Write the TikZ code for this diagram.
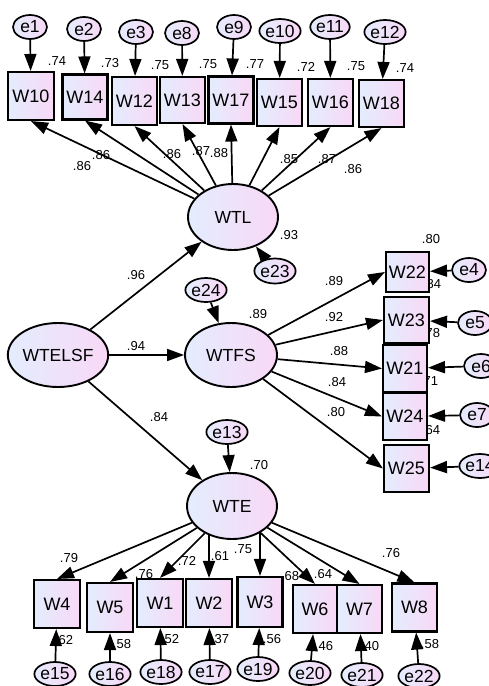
\documentclass[tikz,border=0pt]{standalone}
\usepackage{fontspec}
\setmainfont{Liberation Sans}
\usetikzlibrary{arrows.meta,shapes.geometric}
\definecolor{cA}{HTML}{E4EDFD}
\definecolor{cB}{HTML}{F8D8F6}
\pgfdeclarelayer{lab}
\pgfdeclarelayer{background}
\pgfsetlayers{lab,background,main}
\tikzset{
 obs/.style={draw, line width=2.1pt, rectangle, left color=cA, right color=cB, minimum width=45pt, minimum height=47pt, inner sep=0pt, font=\fontsize{18}{20}\selectfont},
 lat/.style={draw, line width=1.9pt, ellipse, left color=cA, right color=cB, minimum width=90pt, minimum height=66pt, inner sep=0pt, font=\fontsize{17.5}{20}\selectfont},
 err/.style={draw, line width=1.7pt, ellipse, left color=cA, right color=cB, minimum width=34pt, minimum height=24pt, inner sep=0pt, font=\fontsize{17.5}{20}\selectfont},
 arr/.style={line width=1.7pt, -{Triangle[length=17pt,width=12pt]}},
 num/.style={font=\fontsize{13}{15}\selectfont, inner sep=0pt},
}
\begin{document}
\begin{tikzpicture}[x=1pt,y=-1pt]
\clip (0,0) rectangle (489,686);
\begin{pgfonlayer}{lab}
\fill[white] (0,0) rectangle (489,686);
\end{pgfonlayer}
% top boxes
\node[obs, minimum width=46pt, minimum height=48pt] (W10) at (31,96) {W10};
\node[obs, minimum height=45pt] (W14) at (85,97) {W14};
\node[obs, minimum height=48pt] (W12) at (134.5,101) {W12};
\node[obs, minimum height=46pt] (W13) at (182.5,100) {W13};
\node[obs] (W17) at (231,100) {W17};
\node[obs] (W15) at (279.5,102.5) {W15};
\node[obs] (W16) at (330.5,102.5) {W16};
\node[obs] (W18) at (381.5,103.5) {W18};
% top errors
\node[err] (e1) at (30,27) {e1};
\node[err] (e2) at (84,29) {e2};
\node[err] (e3) at (136,32) {e3};
\node[err] (e8) at (182,33) {e8};
\node[err] (e9) at (234,27) {e9};
\node[err] (e10) at (280,31) {e10};
\node[err] (e11) at (330,27) {e11};
\node[err] (e12) at (385,32) {e12};
% latents
\node[lat] (WTL) at (233,217) {WTL};
\node[lat, minimum height=64pt] (WTELSF) at (58,355) {WTELSF};
\node[lat, minimum width=92pt, minimum height=64pt] (WTFS) at (231,355) {WTFS};
\node[lat] (WTE) at (232,506) {WTE};
\node[err, minimum height=25pt] (e23) at (275,271) {e23};
\node[err] (e24) at (206,290) {e24};
\node[err] (e13) at (227,432) {e13};
% right boxes
\node[obs, minimum width=43pt, minimum height=40pt] (W22) at (407.5,272) {W22};
\node[obs, minimum height=46pt] (W23) at (406.5,320) {W23};
\node[obs, minimum width=44pt] (W21) at (405,368.5) {W21};
\node[obs, minimum width=44pt] (W24) at (405,416.5) {W24};
\node[obs] (W25) at (406.5,468.5) {W25};
\node[err] (e4) at (469,270) {e4};
\node[err] (e5) at (475,323) {e5};
\node[err] (e6) at (481,366) {e6};
\node[err] (e7) at (477,415) {e7};
\node[err] (e14) at (480,466) {e14};
% bottom boxes
\node[obs, minimum width=46pt, minimum height=48pt] (W4) at (57,604) {W4};
\node[obs, minimum width=46pt, minimum height=49pt] (W5) at (110,607.5) {W5};
\node[obs, minimum width=46pt, minimum height=48pt] (W1) at (160,603) {W1};
\node[obs, minimum width=46pt, minimum height=48pt] (W2) at (209,603) {W2};
\node[obs, minimum height=50pt] (W3) at (260,602) {W3};
\node[obs, minimum width=44pt, minimum height=48pt] (W6) at (315,609) {W6};
\node[obs, minimum height=48pt] (W7) at (359.5,609) {W7};
\node[obs, minimum height=48pt] (W8) at (414.5,607.5) {W8};
\node[err] (e15) at (55,674) {e15};
\node[err] (e16) at (110,674) {e16};
\node[err] (e18) at (161,672) {e18};
\node[err] (e17) at (210,672) {e17};
\node[err] (e19) at (258,669) {e19};
\node[err] (e20) at (310,673) {e20};
\node[err] (e21) at (362,675) {e21};
\node[err] (e22) at (419,676) {e22};

\begin{pgfonlayer}{background}
% top error arrows
\draw[arr] (e1) -- (W10);
\draw[arr] (e2) -- (W14);
\draw[arr] (e3) -- (W12);
\draw[arr] (e8) -- (W13);
\draw[arr] (e9) -- (W17);
\draw[arr] (e10) -- (W15);
\draw[arr] (e11) -- (W16);
\draw[arr] (e12) -- (W18);
% WTL loadings
\foreach \b in {W10,W14,W12,W13,W17,W15,W16,W18}
  \draw[arr] (WTL) -- (\b.south);
\draw[arr] (e23) -- (WTL);
% structural
\draw[arr] (WTELSF) -- (WTL);
\draw[arr] (WTELSF) -- (WTFS);
\draw[arr] (WTELSF) -- (WTE);
\draw[arr] (e24) -- (WTFS);
\draw[arr] (e13) -- (WTE);
% WTFS loadings
\foreach \b in {W22,W23,W21,W24,W25}
  \draw[arr] (WTFS) -- (\b.west);
\draw[arr] (e4) -- (W22);
\draw[arr] (e5) -- (W23);
\draw[arr] (e6) -- (W21);
\draw[arr] (e7) -- (W24);
\draw[arr] (e14) -- (W25);
% WTE loadings
\foreach \b in {W4,W5,W1,W6,W7,W8}
  \draw[arr] (WTE) -- (\b.north);
\draw[arr] (W2.north |- WTE.center) -- (W2.north);
\draw[arr] (W3.north |- WTE.center) -- (W3.north);
\draw[arr] (e15) -- (W4);
\draw[arr] (e16) -- (W5);
\draw[arr] (e18) -- (W1);
\draw[arr] (e17) -- (W2);
\draw[arr] (e19) -- (W3);
\draw[arr] (e20) -- (W6);
\draw[arr] (e21) -- (W7);
\draw[arr] (e22) -- (W8);
\end{pgfonlayer}

\begin{pgfonlayer}{lab}
\node[num] (r1) at (57,61) {.74};
\node[num] (r2) at (110,63) {.73};
\node[num] (r3) at (160,65) {.75};
\node[num] (r4) at (208,64) {.75};
\node[num] (r5) at (255,64) {.77};
\node[num] (r6) at (306,67) {.72};
\node[num] (r7) at (356,66) {.75};
\node[num] (r8) at (405,68) {.74};
\node[num] (l1) at (82,166) {.86};
\node[num] (l2) at (101,155) {.86};
\node[num] (l3) at (172,154) {.86};
\node[num] (l4) at (201,151) {.87};
\node[num] (l5) at (219,153) {.88};
\node[num] (l6) at (289,159) {.85};
\node[num] (l7) at (327,159) {.87};
\node[num] (l8) at (353,169) {.86};
\node[num] (r9) at (289,235) {.93};
\node[num] (r10) at (258,314) {.89};
\node[num] (s1) at (136,275) {.96};
\node[num] (s2) at (136,346) {.94};
\node[num] (s3) at (159,417) {.84};
\node[num] (r11) at (259,465) {.70};
\node[num] (r12) at (431,239) {.80};
\node[num] (r13) at (432,284) {.84};
\node[num] (r14) at (431,333) {.78};
\node[num] (r15) at (429,381) {.71};
\node[num] (r16) at (431,430) {.64};
\node[num] (m1) at (334,281) {.89};
\node[num] (m2) at (334,317) {.92};
\node[num] (m3) at (339,351) {.88};
\node[num] (m4) at (337,382) {.84};
\node[num] (m5) at (336,412) {.80};
\node[num] (n1) at (69,558) {.79};
\node[num] (n2) at (144,574) {.76};
\node[num] (n3) at (187,561) {.72};
\node[num] (n4) at (220,556) {.61};
\node[num] (n5) at (243,549) {.75};
\node[num] (n6) at (290,576) {.68};
\node[num] (n7) at (323,574) {.64};
\node[num] (n8) at (391,553) {.76};
\node[num] (q1) at (64,640) {.62};
\node[num] (q2) at (122,644) {.58};
\node[num] (q3) at (170,639) {.52};
\node[num] (q4) at (220,639) {.37};
\node[num] (q5) at (272,639) {.56};
\node[num] (q6) at (324,646) {.46};
\node[num] (q7) at (370,646) {.40};
\node[num] (q8) at (430,644) {.58};
\end{pgfonlayer}
\end{tikzpicture}
\end{document}
